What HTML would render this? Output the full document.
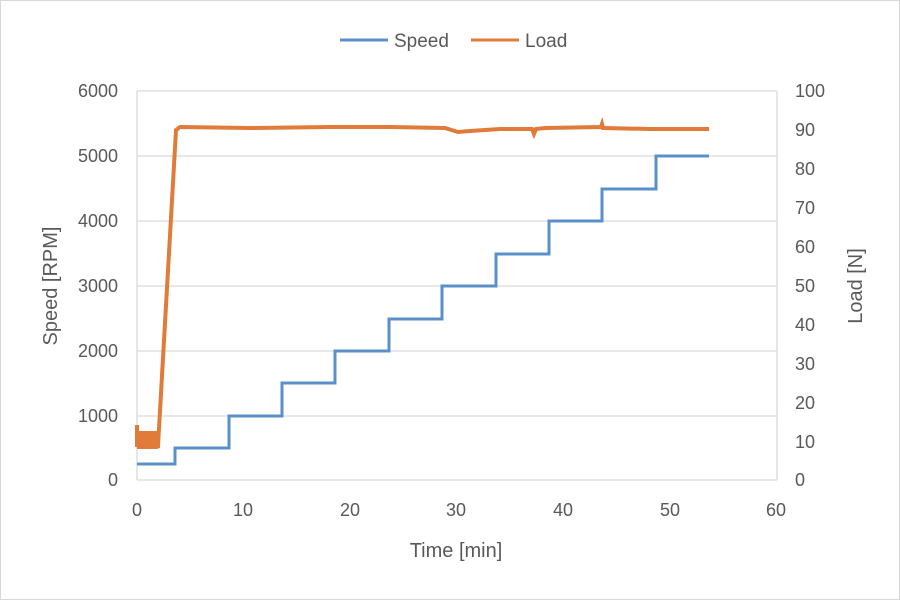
<!DOCTYPE html>
<html><head><style>
body{margin:0;background:#fff;}
svg text{font-family:"Liberation Sans",sans-serif;fill:#595959;}
</style></head><body>
<svg width="900" height="600" viewBox="0 0 900 600">
<rect x="0.5" y="0.5" width="899" height="599" fill="#fff" stroke="#d9d9d9"/>
<g stroke="#d9d9d9" stroke-width="1.3">
<line x1="137" y1="91" x2="777" y2="91"/>
<line x1="137" y1="156" x2="777" y2="156"/>
<line x1="137" y1="221" x2="777" y2="221"/>
<line x1="137" y1="286" x2="777" y2="286"/>
<line x1="137" y1="351" x2="777" y2="351"/>
<line x1="137" y1="416" x2="777" y2="416"/>
<line x1="137" y1="480" x2="777" y2="480"/>
<line x1="137" y1="91" x2="137" y2="480"/>
<line x1="777" y1="91" x2="777" y2="480"/>
</g>
<g font-size="18" text-anchor="end">
<text x="118" y="97">6000</text><text x="118" y="162">5000</text><text x="118" y="227">4000</text>
<text x="118" y="292">3000</text><text x="118" y="357">2000</text><text x="118" y="422">1000</text><text x="118" y="486">0</text>
</g>
<g font-size="18" text-anchor="start">
<text x="795" y="97">100</text><text x="795" y="136">90</text><text x="795" y="175">80</text><text x="795" y="214">70</text>
<text x="795" y="253">60</text><text x="795" y="292">50</text><text x="795" y="331">40</text><text x="795" y="370">30</text>
<text x="795" y="409">20</text><text x="795" y="448">10</text><text x="795" y="486">0</text>
</g>
<g font-size="18" text-anchor="middle">
<text x="137" y="516">0</text><text x="243" y="516">10</text><text x="350" y="516">20</text><text x="456" y="516">30</text>
<text x="563" y="516">40</text><text x="670" y="516">50</text><text x="776" y="516">60</text>
<text x="456" y="557" font-size="20">Time [min]</text>
<text transform="translate(57,286) rotate(-90)" font-size="20">Speed [RPM]</text>
<text transform="translate(862,286) rotate(-90)" font-size="20">Load [N]</text>
</g>
<line x1="340" y1="40" x2="388" y2="40" stroke="#5b8fc9" stroke-width="3"/>
<text x="394" y="47" font-size="19">Speed</text>
<line x1="471" y1="40" x2="519" y2="40" stroke="#e07b39" stroke-width="3"/>
<text x="525" y="47" font-size="19">Load</text>
<polyline fill="none" stroke="#5b8fc9" stroke-width="3" points="137,464 175,464 175,448 229,448 229,416 282,416 282,383 335,383 335,351 389,351 389,319 442,319 442,286 496,286 496,254 549,254 549,221 602,221 602,189 656,189 656,156 709,156"/>
<rect x="137" y="431" width="21" height="18" fill="#e07b39"/>
<polyline fill="none" stroke="#e07b39" stroke-width="4" points="137,425 137,445 158,446 176,130 180,127 250,128 330,127 390,127 445,128 458,132 470,131 500,129 532,129 534,134 536,129 545,128 601,127 602,124 603,128 650,129 709,129"/>
</svg>
</body></html>
